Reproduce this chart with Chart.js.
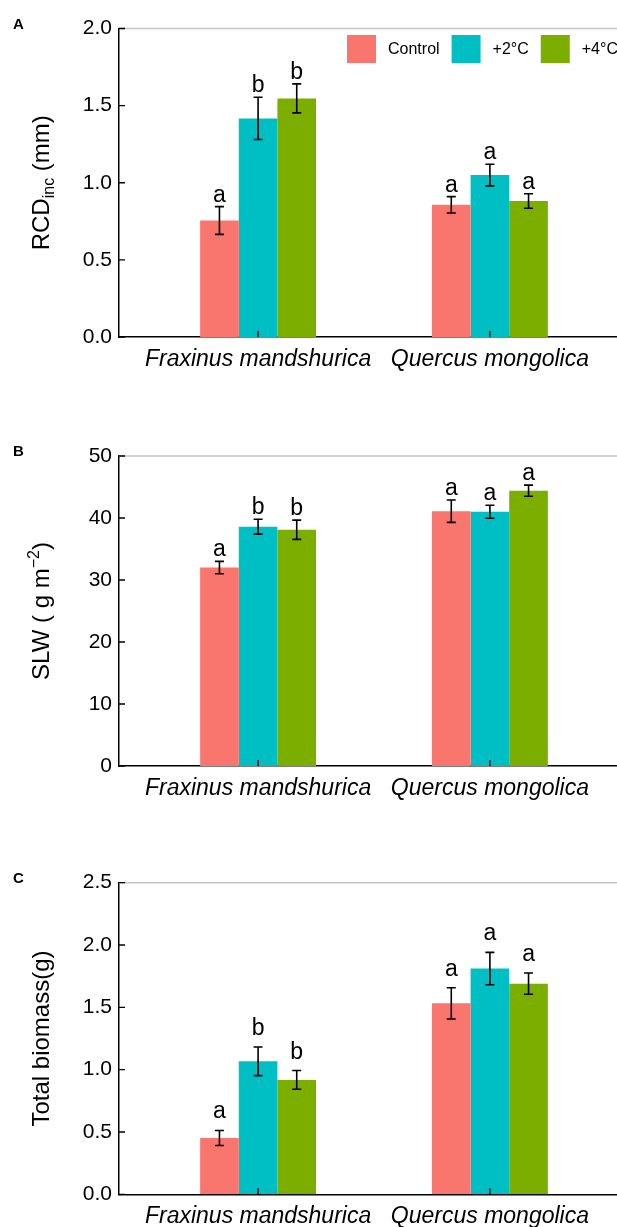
<!DOCTYPE html>
<html>
<head>
<meta charset="utf-8">
<script src="https://cdn.jsdelivr.net/npm/chart.js@4.4.1/dist/chart.umd.min.js"></script>
<style>
  html, body { margin: 0; padding: 0; background: #fff; overflow: hidden; width: 617px; height: 1227px; }
  .panel { position: absolute; left: 0; }
</style>
</head>
<body>
<div class="panel" style="top:0px"><canvas id="chartA" width="629" height="400"></canvas></div>
<div class="panel" style="top:400px"><canvas id="chartB" width="629" height="420"></canvas></div>
<div class="panel" style="top:820px"><canvas id="chartC" width="629" height="407"></canvas></div>
<script>
// data, index order: [treatment][species]
const species = ['Fraxinus mandshurica', 'Quercus mongolica'];
const treatments = ['Control', '+2°C', '+4°C'];
const colors = ['#F8766D', '#00BFC4', '#7CAE00'];

const rcdMean = [[0.755, 0.857], [1.417, 1.05], [1.547, 0.882]];
const rcdErr = [[0.09, 0.053], [0.137, 0.07], [0.094, 0.047]];
const rcdLetters = [['a', 'a'], ['b', 'a'], ['b', 'a']];
const rcdTicks = [0, 0.5, 1.0, 1.5, 2.0];

const slwMean = [[32.0, 41.1], [38.6, 41.0], [38.1, 44.4]];
const slwErr = [[1.0, 1.8], [1.2, 1.05], [1.55, 0.9]];
const slwLetters = [['a', 'a'], ['b', 'a'], ['b', 'a']];
const slwTicks = [0, 10, 20, 30, 40, 50];

const massMean = [[0.452, 1.532], [1.067, 1.811], [0.918, 1.69]];
const massErr = [[0.06, 0.125], [0.115, 0.13], [0.075, 0.085]];
const massLetters = [['a', 'a'], ['b', 'a'], ['b', 'a']];
const massTicks = [0, 0.5, 1.0, 1.5, 2.0, 2.5];

const FONT = "'Liberation Sans', Arial, Helvetica, sans-serif";

// axes frame, inward ticks, error bars, letters, titles
const panelDecor = {
  id: 'panelDecor',
  afterDatasetsDraw(chart, args, opts) {
    const ctx = chart.ctx;
    const ys = chart.scales.y;
    ctx.save();
    chart.data.datasets.forEach((ds, i) => {
      const meta = chart.getDatasetMeta(i);
      meta.data.forEach((bar, j) => {
        const v = ds.data[j].y, e = ds.err[j];
        const yTop = ys.getPixelForValue(v + e);
        const yBot = ys.getPixelForValue(v - e);
        ctx.strokeStyle = '#000';
        ctx.lineWidth = 1.6;
        ctx.beginPath();
        ctx.moveTo(bar.x, yTop); ctx.lineTo(bar.x, yBot);
        ctx.moveTo(bar.x - 4.5, yTop); ctx.lineTo(bar.x + 4.5, yTop);
        ctx.moveTo(bar.x - 4.5, yBot); ctx.lineTo(bar.x + 4.5, yBot);
        ctx.stroke();
        ctx.fillStyle = '#000';
        ctx.font = '23px ' + FONT;
        ctx.textAlign = 'center';
        ctx.textBaseline = 'alphabetic';
        ctx.fillText(ds.letters[j], bar.x, yTop - opts.letterGap);
      });
    });
    ctx.restore();
  },
  afterDraw(chart, args, opts) {
    const ctx = chart.ctx, a = chart.chartArea;
    const xs = chart.scales.x, ys = chart.scales.y;
    ctx.save();
    ctx.strokeStyle = '#c4c4c4';
    ctx.lineWidth = 1.5;
    ctx.beginPath();
    ctx.moveTo(a.left, a.top); ctx.lineTo(chart.width, a.top);
    ctx.stroke();

    ctx.strokeStyle = '#000';
    ctx.lineWidth = 1.3;
    ctx.beginPath();
    ys.ticks.forEach(t => {
      const y = ys.getPixelForValue(t.value);
      ctx.moveTo(a.left, y); ctx.lineTo(a.left + 6, y);
    });
    xs.ticks.forEach(t => {
      const x = xs.getPixelForValue(t.value);
      ctx.moveTo(x, a.bottom); ctx.lineTo(x, a.bottom - 6);
    });
    ctx.stroke();

    // panel letter
    ctx.fillStyle = '#000';
    ctx.font = 'bold 15px ' + FONT;
    ctx.textAlign = 'left';
    ctx.textBaseline = 'alphabetic';
    ctx.fillText(opts.letter, 13, a.top);

    // y title, rotated, with sub/superscripts
    const cy = (a.top + a.bottom) / 2;
    ctx.translate(49, cy);
    ctx.rotate(-Math.PI / 2);
    let total = 0;
    opts.title.forEach(p => {
      ctx.font = p.size + 'px ' + FONT;
      p.w = ctx.measureText(p.text).width;
      total += p.w;
    });
    let x = -total / 2;
    opts.title.forEach(p => {
      ctx.font = p.size + 'px ' + FONT;
      ctx.fillText(p.text, x, p.dy || 0);
      x += p.w;
    });
    ctx.restore();

    if (opts.legend) {
      ctx.save();
      ctx.font = '16px ' + FONT;
      ctx.textBaseline = 'middle';
      ctx.textAlign = 'left';
      let lx = 347;
      treatments.forEach((t, i) => {
        ctx.fillStyle = colors[i];
        ctx.fillRect(lx, 35, 29, 28);
        ctx.fillStyle = '#000';
        ctx.fillText(t, lx + 41, 50);
        lx += 41 + ctx.measureText(t).width + 12;
      });
      ctx.restore();
    }
  }
};

function makeChart(id, cfg) {
  return new Chart(document.getElementById(id), {
    type: 'bar',
    data: {
      datasets: treatments.map((t, i) => ({
        label: t,
        data: cfg.mean[i].map((v, j) => ({ x: j + 1, y: v })),
        err: cfg.err[i],
        letters: cfg.letters[i],
        backgroundColor: colors[i],
        borderWidth: 0,
        categoryPercentage: 0.5,
        barPercentage: 1.0
      }))
    },
    options: {
      responsive: false,
      animation: false,
      layout: { padding: { top: cfg.top, left: 0, right: 0, bottom: 0 } },
      plugins: {
        legend: { display: false },
        tooltip: { enabled: false },
        panelDecor: { letter: cfg.letter, title: cfg.title, legend: cfg.legend, letterGap: cfg.letterGap }
      },
      scales: {
        x: {
          type: 'linear',
          min: 0.4,
          max: 2.6,
          offset: false,
          grid: { display: false, drawTicks: false, offset: false },
          border: { display: true, color: '#000', width: 1.5 },
          afterBuildTicks: s => { s.ticks = species.map((n, i) => ({ value: i + 1 })); },
          afterFit: s => { s.height = cfg.xh; },
          ticks: {
            callback: v => species[v - 1],
            font: { family: FONT, size: 23, style: 'italic' },
            color: '#000',
            padding: 9,
            maxRotation: 0,
            autoSkip: false
          }
        },
        y: {
          min: 0,
          max: cfg.ticks[cfg.ticks.length - 1],
          grid: { display: false, drawTicks: false },
          border: { display: true, color: '#000', width: 1.5 },
          afterBuildTicks: s => { s.ticks = cfg.ticks.map(v => ({ value: v })); },
          afterFit: s => { s.width = 119; },
          ticks: {
            callback: v => v.toFixed(cfg.dec),
            font: { family: FONT, size: 21 },
            color: '#000',
            padding: 7
          }
        }
      }
    },
    plugins: [panelDecor]
  });
}

makeChart('chartA', {
  mean: rcdMean, err: rcdErr, letters: rcdLetters, ticks: rcdTicks, dec: 1,
  top: 28.5, xh: 63, letter: 'A', legend: true, letterGap: 5,
  title: [{ text: 'RCD', size: 24 }, { text: 'inc', size: 16, dy: 5 }, { text: ' (mm)', size: 24 }]
});
makeChart('chartB', {
  mean: slwMean, err: slwErr, letters: slwLetters, ticks: slwTicks, dec: 0,
  top: 56, xh: 54, letter: 'B', legend: false, letterGap: 5,
  title: [{ text: 'SLW ( g m', size: 24 }, { text: '\u22122', size: 16, dy: -10 }, { text: ')', size: 24 }]
});
makeChart('chartC', {
  mean: massMean, err: massErr, letters: massLetters, ticks: massTicks, dec: 1,
  top: 62.7, xh: 32.7, letter: 'C', legend: false, letterGap: 12,
  title: [{ text: 'Total biomass(g)', size: 24 }]
});
</script>
</body>
</html>
